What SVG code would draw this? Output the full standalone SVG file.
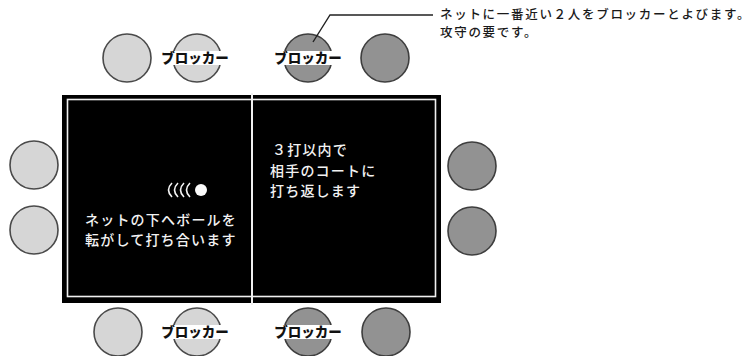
<svg xmlns="http://www.w3.org/2000/svg" width="755" height="356" viewBox="0 0 755 356">
<style>
.light{fill:#d6d6d6;stroke:#4a4a4a;stroke-width:1.6}
.dark{fill:#929292;stroke:#3e3e3e;stroke-width:1.6}
.blk{font-family:"Noto Sans CJK JP","Noto Sans",sans-serif;font-size:13.5px;font-weight:900;fill:#111;text-anchor:middle}
.court{font-family:"Noto Sans CJK JP","Noto Sans",sans-serif;font-size:14px;font-weight:500;fill:#f2f2f2;letter-spacing:1.2px}
.note{font-family:"Noto Sans CJK JP","Noto Sans",sans-serif;font-size:12.5px;font-weight:500;fill:#1a1a1a;letter-spacing:1.7px}
.band{fill:#ffffff}
.arc{fill:none;stroke:#f4f4f4;stroke-width:1.6}
</style>
<rect width="755" height="356" fill="#ffffff"/>
<g id="court">
<rect x="62" y="95" width="379" height="208" fill="#000"/>
<rect x="67.5" y="99.5" width="368" height="197" fill="none" stroke="#f0f0f0" stroke-width="1.6"/>
<line x1="252" y1="93" x2="252" y2="305" stroke="#f0f0f0" stroke-width="2"/>
</g>
<g id="ball">
<path class="arc" d="M172,183 Q165,190 172,197"/>
<path class="arc" d="M178,183 Q171,190 178,197"/>
<path class="arc" d="M184,183 Q177,190 184,197"/>
<path class="arc" d="M190,183 Q183,190 190,197"/>
<circle cx="201" cy="190" r="6" fill="#fafafa"/>
</g>
<g id="text-left">
<text class="court" x="85" y="225">ネットの下へボールを</text>
<text class="court" x="85" y="245">転がして打ち合います</text>
</g>
<g id="text-right">
<text class="court" x="272" y="155">３打以内で</text>
<text class="court" x="270" y="176">相手のコートに</text>
<text class="court" x="270" y="196">打ち返します</text>
</g>
<g id="p-top1"><circle class="light" cx="127" cy="58" r="24"/></g>
<g id="p-top2"><circle class="light" cx="197" cy="58" r="24"/><rect class="band" x="162" y="51" width="66" height="14"/><text class="blk" x="195" y="63">ブロッカー</text></g>
<g id="p-top3"><circle class="dark" cx="308" cy="58" r="24"/><rect class="band" x="275" y="51" width="67" height="14"/><text class="blk" x="308" y="63">ブロッカー</text></g>
<g id="p-top4"><circle class="dark" cx="385" cy="58" r="24"/></g>
<g id="p-left1"><circle class="light" cx="34" cy="165" r="24"/></g>
<g id="p-left2"><circle class="light" cx="34" cy="230" r="24"/></g>
<g id="p-right1"><circle class="dark" cx="472" cy="166" r="24"/></g>
<g id="p-right2"><circle class="dark" cx="472" cy="231" r="24"/></g>
<g id="p-bot1"><circle class="light" cx="118" cy="332" r="24"/></g>
<g id="p-bot2"><circle class="light" cx="197" cy="332" r="24"/><rect class="band" x="162" y="325" width="66" height="14"/><text class="blk" x="195" y="337">ブロッカー</text></g>
<g id="p-bot3"><circle class="dark" cx="308" cy="332" r="24"/><rect class="band" x="275" y="325" width="67" height="14"/><text class="blk" x="308" y="337">ブロッカー</text></g>
<g id="p-bot4"><circle class="dark" cx="386" cy="332" r="24"/></g>
<g id="connectors">
<polyline points="313,42 330,15 433,15" fill="none" stroke="#222" stroke-width="1.4"/>
</g>
<g id="note">
<text class="note" x="440" y="19">ネットに一番近い２人をブロッカーとよびます。</text>
<text class="note" x="440" y="37">攻守の要です。</text>
</g>
</svg>
